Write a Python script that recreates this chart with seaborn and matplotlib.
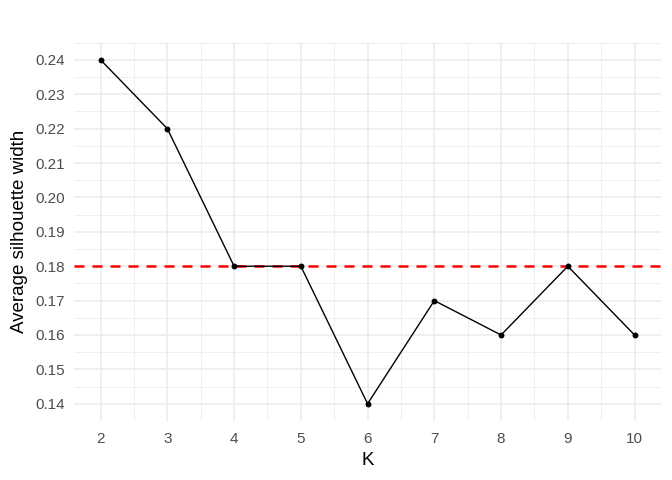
import pandas as pd
import matplotlib
matplotlib.use("Agg")
import matplotlib.pyplot as plt
import seaborn as sns

# Data
k_values = [2, 3, 4, 5, 6, 7, 8, 9, 10]
avg_sil = [0.24, 0.22, 0.18, 0.18, 0.14, 0.17, 0.16, 0.18, 0.16]
threshold = 0.18

df = pd.DataFrame({"K": k_values, "sil": avg_sil})

sns.set_style("white")
plt.rcParams['font.family'] = ['Liberation Sans', 'DejaVu Sans']

fig = plt.figure(figsize=(6.72, 4.8), dpi=100)
ax = fig.add_axes([0.110, 0.123, 0.874, 0.788])

# ggplot theme_minimal look
grid_col = "#EBEBEB"
for x in range(2, 11):
    ax.axvline(x, color=grid_col, lw=1.1, zorder=0)
for x in [i + 0.5 for i in range(2, 10)]:
    ax.axvline(x, color=grid_col, lw=0.55, zorder=0)
yt = [0.14 + 0.01 * i for i in range(11)]
for y in yt:
    ax.axhline(y, color=grid_col, lw=1.1, zorder=0)
for y in [0.135 + 0.01 * i for i in range(12)]:
    ax.axhline(y, color=grid_col, lw=0.55, zorder=0)

sns.lineplot(data=df, x="K", y="sil", color="black", lw=1.0, ax=ax, zorder=3)
sns.scatterplot(data=df, x="K", y="sil", color="black", s=18, edgecolor="black",
                linewidth=0, ax=ax, zorder=4)
ax.axhline(threshold, color="#FF0000", lw=1.8, ls=(0, (4.0, 3.2)), zorder=2)

ax.set_xlim(1.6, 10.4)
ax.set_ylim(0.135, 0.245)
ax.set_xticks(k_values)
ax.set_yticks(yt)
ax.set_yticklabels([f"{v:.2f}" for v in yt])
ax.tick_params(axis="y", length=0, labelsize=11, labelcolor="#4D4D4D", pad=6.5)
ax.tick_params(axis="x", length=0, labelsize=11, labelcolor="#4D4D4D", pad=8)
for s in ax.spines.values():
    s.set_visible(False)
ax.set_xlabel("K", fontsize=13.5, color="black", labelpad=4)
ax.set_ylabel("Average silhouette width", fontsize=13.5, color="black", labelpad=5)

fig.savefig("out.png", dpi=100)
